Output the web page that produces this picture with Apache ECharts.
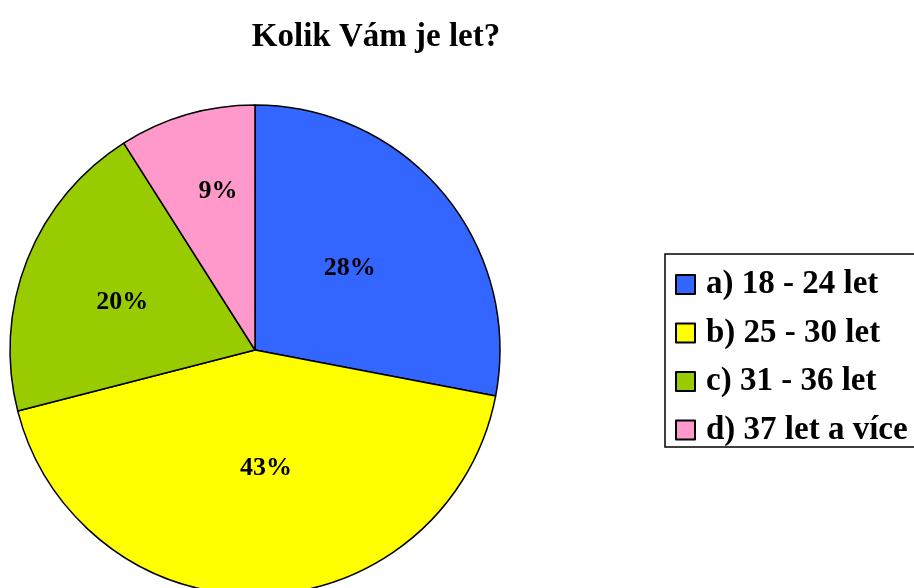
<!DOCTYPE html>
<html>
<head>
<meta charset="utf-8">
<script src="https://cdn.jsdelivr.net/npm/echarts@6/dist/echarts.min.js"></script>
<style>
  html, body { margin: 0; padding: 0; background: #fff; }
  #chart { width: 914px; height: 588px; }
</style>
</head>
<body>
<div id="chart"></div>
<script>
var categories = ['a) 18 - 24 let', 'b) 25 - 30 let', 'c) 31 - 36 let', 'd) 37 let a více'];
var values = [28, 43, 20, 9];
var colors = ['#3366FF', '#FFFF00', '#99CC00', '#FF99CC'];

var font = '"Liberation Serif", "Times New Roman", serif';
// small nudges so labels sit where Excel's best-fit put them
var labelShift = [[-2, -2], [7, -7], [-16, -2], [-2, -38]];

var pieData = categories.map(function (name, i) {
    return { name: name, value: values[i], itemStyle: { color: colors[i] } };
});

var chart = echarts.init(document.getElementById('chart'));
chart.setOption({
    animation: false,
    title: {
        text: 'Kolik Vám je let?',
        left: 371,
        top: 16,
        textAlign: 'center',
        textStyle: { fontFamily: font, fontSize: 33, fontWeight: 'bold', color: '#000' }
    },
    legend: {
        orient: 'vertical',
        left: 675,
        top: 268,
        padding: 0,
        icon: 'rect',
        itemWidth: 19,
        itemHeight: 19,
        itemGap: 15.5,
        selectedMode: false,
        textStyle: {
            fontFamily: font, fontSize: 33, fontWeight: 'bold', color: '#000',
            lineHeight: 30, padding: [0, 0, 0, 6]
        },
        data: categories
    },
    graphic: [{
        type: 'rect',
        shape: { x: 665, y: 254, width: 300, height: 193 },
        style: { fill: 'none', stroke: '#000', lineWidth: 1.5 },
        silent: true
    }],
    series: [{
        type: 'pie',
        center: [255, 350],
        radius: 245,
        startAngle: 90,
        clockwise: true,
        avoidLabelOverlap: false,
        itemStyle: { borderColor: '#000', borderWidth: 1.5 },
        label: {
            position: 'inside',
            formatter: function (p) { return p.value + '%'; },
            fontFamily: font, fontSize: 26, fontWeight: 'bold', color: '#000'
        },
        labelLayout: function (p) {
            var s = labelShift[p.dataIndex];
            return { dx: s[0], dy: s[1] };
        },
        labelLine: { show: false },
        emphasis: { disabled: true },
        data: pieData
    }]
});
</script>
</body>
</html>
